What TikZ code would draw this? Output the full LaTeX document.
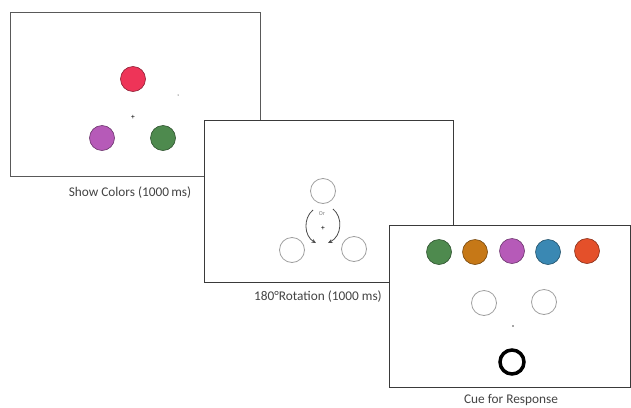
\documentclass[tikz,border=0pt]{standalone}
\usepackage{fontspec}
\setmainfont{Carlito}
\usetikzlibrary{arrows.meta}
\definecolor{cred}{HTML}{EE3458}
\definecolor{cpurple}{HTML}{B65AB8}
\definecolor{cgreen}{HTML}{4E8A4E}
\definecolor{corange}{HTML}{C67817}
\definecolor{cblue}{HTML}{3A88B3}
\definecolor{cvermil}{HTML}{E4502A}
\definecolor{frame}{HTML}{3A3A3A}
\definecolor{captxt}{HTML}{444444}
\begin{document}
\begin{tikzpicture}[x=1pt,y=-1pt,
  panel/.style={draw=frame,line width=0.9pt,fill=white},
  disc/.style={circle,draw=#1!60!black,fill=#1,line width=0.6pt,minimum size=25pt,inner sep=0pt},
  ring/.style={circle,draw=gray!75,line width=0.8pt,fill=white,minimum size=25pt,inner sep=0pt},
  caption/.style={font=\fontsize{13.3}{15}\selectfont,text=captxt,inner sep=1pt},
  fix/.style={font=\fontsize{7.5}{7.5}\selectfont,inner sep=0pt},
  turn/.style={draw=gray!60!black,line width=0.8pt,-{Stealth[length=4.5pt,width=4pt]}}]
\useasboundingbox (0,0) rectangle (631,407);
\fill[white] (0,0) rectangle (631,407);

% Panel 1: colours shown
\draw[panel,draw=gray!70!black] (10,12) rectangle (260,176);
\node[disc=cred] (r1) at (133,79) {};
\node[disc=cpurple] (p1) at (102,138) {};
\node[disc=cgreen] (g1) at (163,138) {};
\node[fix] (f1) at (133,117) {+};
\fill[black] (178,95) circle (0.5pt);
\node[caption] (c1) at (130,193) {Show Colors (1000\,ms)};

% Panel 2: rotation
\draw[panel] (204,120) rectangle (453,282);
\node[ring] (t2) at (323,191) {};
\node[ring] (l2) at (292,250) {};
\node[ring] (rr2) at (354,249) {};
\node[fix,text=gray,font=\fontsize{6}{6}\selectfont] (or2) at (322,214) {Or};
\node[fix] (f2) at (323,228) {+};
\coordinate (la) at (313,210);
\coordinate (lb) at (316,243);
\coordinate (ra) at (333,209);
\coordinate (rb) at (328,243);
\draw[turn] (la) .. controls (303,218) and (304,236) .. (lb);
\draw[turn] (ra) .. controls (343,217) and (342,236) .. (rb);
\node[caption] (c2) at (318,297) {180°Rotation (1000 ms)};

% Panel 3: response cue
\draw[panel] (389,225) rectangle (630,387);
\node[disc=cgreen] (k1) at (439,252) {};
\node[disc=corange] (k2) at (475,252) {};
\node[disc=cpurple] (k3) at (512,251) {};
\node[disc=cblue] (k4) at (548,252) {};
\node[disc=cvermil] (k5) at (587,251) {};
\node[ring] (o1) at (484,303) {};
\node[ring] (o2) at (544,302) {};
\fill[black!70] (513,326) circle (0.9pt);
\node[circle,draw=black,line width=3.5pt,minimum size=24pt,inner sep=0pt] (cue) at (512,362) {};
\node[caption] (c3) at (511,400) {Cue for Response};
\end{tikzpicture}
\end{document}
